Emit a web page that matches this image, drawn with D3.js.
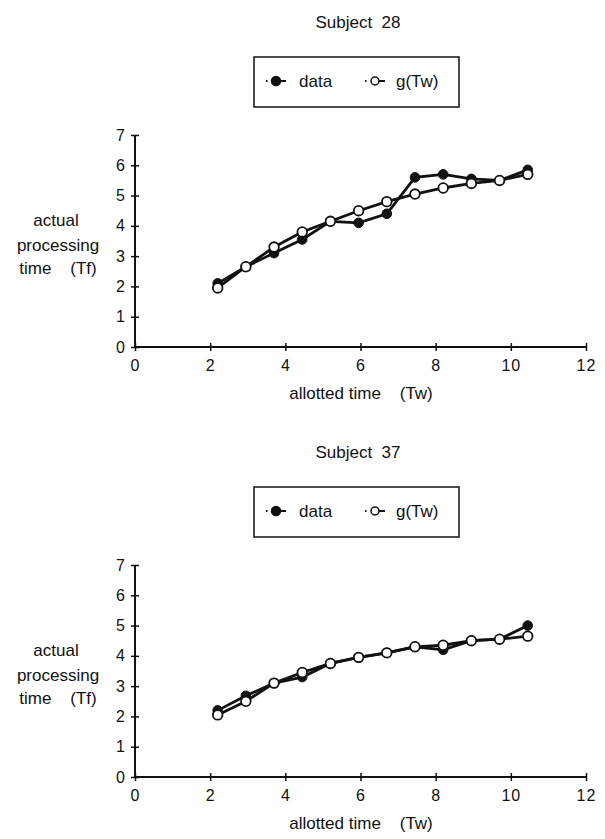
<!DOCTYPE html>
<html>
<head>
<meta charset="utf-8">
<script src="https://cdn.jsdelivr.net/npm/d3@7"></script>
<style>
  body { margin: 0; background: #fff; }
  text { font-family: Arial, "Liberation Sans", Helvetica, sans-serif; fill: #111; }
</style>
</head>
<body>
<div id="chart"></div>
<script>
// allotted time (Tw) values, shared by both subjects
const allotted = [2.2, 2.95, 3.7, 4.45, 5.2, 5.95, 6.7, 7.45, 8.2, 8.95, 9.7, 10.45];

// Subject 28
const data28 = [2.1, 2.65, 3.1, 3.55, 4.15, 4.1, 4.4, 5.6, 5.7, 5.55, 5.5, 5.85];
const g28    = [1.95, 2.65, 3.3, 3.8, 4.15, 4.5, 4.8, 5.05, 5.25, 5.4, 5.5, 5.7];

// Subject 37
const data37 = [2.2, 2.68, 3.1, 3.3, 3.75, 3.95, 4.1, 4.3, 4.2, 4.5, 4.55, 5.0];
const g37    = [2.05, 2.5, 3.1, 3.45, 3.75, 3.95, 4.1, 4.3, 4.35, 4.5, 4.55, 4.65];

const xTicks = [0, 2, 4, 6, 8, 10, 12];
const yTicks = [0, 1, 2, 3, 4, 5, 6, 7];

const panels = [
  {title: "Subject 28", data: data28, fit: g28, top: 0},
  {title: "Subject 37", data: data37, fit: g37, top: 430}
];

const width = 605, height = 839;
const svg = d3.select("#chart").append("svg")
  .attr("width", width)
  .attr("height", height);

// plot area (same for both panels, shifted by panel.top)
let x = d3.scaleLinear().domain([0, 12]).range([135, 586]);
let y = d3.scaleLinear().domain([0, 7]).range([347, 135]);

function legendMarker(g, cx, cy, filled) {
  g.append("line").attr("x1", cx - 10).attr("x2", cx - 8.5)
    .attr("y1", cy).attr("y2", cy).attr("stroke", "#111").attr("stroke-width", 2);
  g.append("line").attr("x1", cx + 4).attr("x2", cx + 10)
    .attr("y1", cy).attr("y2", cy).attr("stroke", "#111").attr("stroke-width", 2);
  g.append("circle").attr("cx", cx).attr("cy", cy).attr("r", filled ? 4.5 : 4)
    .attr("fill", filled ? "#111" : "#fff").attr("stroke", "#111").attr("stroke-width", 1.5);
}

panels.forEach(p => {
  let g = svg.append("g").attr("transform", "translate(0," + p.top + ")");

  g.append("text")
    .attr("x", 358).attr("y", 28)
    .attr("text-anchor", "middle")
    .style("font-size", "17px")
    .style("white-space", "pre")
    .text(p.title.replace(" ", "  "));

  // legend box
  let lg = g.append("g");
  lg.append("rect").attr("x", 254).attr("y", 57).attr("width", 205).attr("height", 50)
    .attr("fill", "#fff").attr("stroke", "#111").attr("stroke-width", 1.5);
  legendMarker(lg, 276, 81, true);
  lg.append("text").attr("x", 299).attr("y", 87).style("font-size", "17px").text("data");
  legendMarker(lg, 375, 81, false);
  lg.append("text").attr("x", 396).attr("y", 87).style("font-size", "17px").text("g(Tw)");

  // axes
  let yAxis = d3.axisLeft(y).tickValues(yTicks).tickSize(4).tickPadding(5).tickFormat(d3.format("d"));
  let xAxis = d3.axisBottom(x).tickValues(xTicks).tickSize(4).tickPadding(9).tickFormat(d3.format("d"));

  let ya = g.append("g").attr("class", "y-axis")
    .attr("transform", "translate(" + x(0) + ",0)")
    .call(yAxis);
  let xa = g.append("g").attr("class", "x-axis")
    .attr("transform", "translate(0," + y(0) + ")")
    .call(xAxis);

  [ya, xa].forEach(a => {
    a.select(".domain").attr("stroke", "#111").attr("stroke-width", 2);
    a.selectAll(".tick line").attr("stroke", "#111").attr("stroke-width", 1.5);
    a.selectAll(".tick text").style("font-size", "16px").attr("font-family", null)
      .style("letter-spacing", "1px");
  });
  ya.select(".domain").attr("d", "M0," + y(7) + "V" + y(0));
  xa.select(".domain").attr("d", "M" + x(0) + ",0H" + x(12));
  // ticks cross the axis line
  ya.selectAll(".tick line").attr("x1", 4);
  xa.selectAll(".tick line").attr("y1", -4);

  // axis titles
  g.append("text").attr("x", 361).attr("y", 399).attr("text-anchor", "middle")
    .style("font-size", "17px").style("white-space", "pre").text("allotted time    (Tw)");
  let yt = g.append("text").attr("text-anchor", "middle").style("font-size", "17px")
    .style("white-space", "pre");
  yt.append("tspan").attr("x", 56).attr("y", 226).text("actual");
  yt.append("tspan").attr("x", 58).attr("y", 251).text("processing");
  yt.append("tspan").attr("x", 58).attr("y", 274).text("time    (Tf)");

  // series
  let line = d3.line().x((d, i) => x(allotted[i])).y(d => y(d));
  g.append("path").datum(p.data).attr("d", line)
    .attr("fill", "none").attr("stroke", "#111").attr("stroke-width", 2.8);
  g.append("path").datum(p.fit).attr("d", line)
    .attr("fill", "none").attr("stroke", "#111").attr("stroke-width", 2.8);

  g.selectAll(".pt-data").data(p.data).enter().append("circle")
    .attr("class", "pt-data")
    .attr("cx", (d, i) => x(allotted[i])).attr("cy", d => y(d)).attr("r", 4.8)
    .attr("fill", "#111").attr("stroke", "#111").attr("stroke-width", 1);
  g.selectAll(".pt-fit").data(p.fit).enter().append("circle")
    .attr("class", "pt-fit")
    .attr("cx", (d, i) => x(allotted[i])).attr("cy", d => y(d)).attr("r", 4.8)
    .attr("fill", "#fff").attr("stroke", "#111").attr("stroke-width", 1.8);
});
</script>
</body>
</html>
